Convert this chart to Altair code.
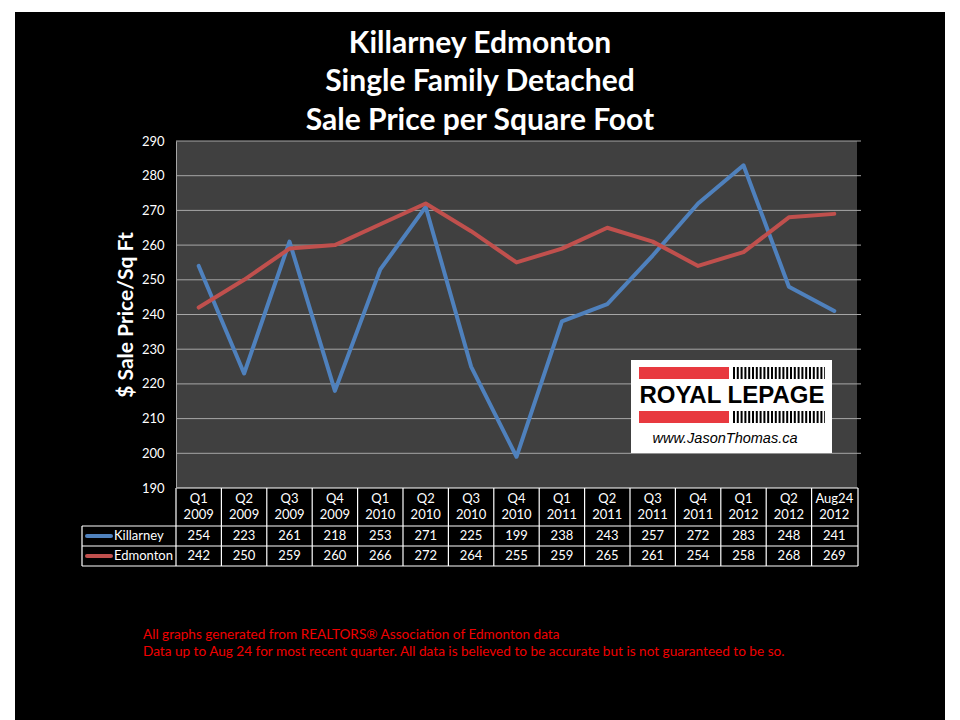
import altair as alt
import pandas as pd

# ---------------- data ----------------
quarters = ["Q1", "Q2", "Q3", "Q4", "Q1", "Q2", "Q3", "Q4", "Q1", "Q2", "Q3", "Q4", "Q1", "Q2", "Aug24"]
years = ["2009", "2009", "2009", "2009", "2010", "2010", "2010", "2010",
         "2011", "2011", "2011", "2011", "2012", "2012", "2012"]
killarney = [254, 223, 261, 218, 253, 271, 225, 199, 238, 243, 257, 272, 283, 248, 241]
edmonton = [242, 250, 259, 260, 266, 272, 264, 255, 259, 265, 261, 254, 258, 268, 269]
series_names = ["Killarney", "Edmonton"]
series_colors = ["#4F81BD", "#C0504D"]
y_ticks = [190, 200, 210, 220, 230, 240, 250, 260, 270, 280, 290]
grid_values = [200, 210, 220, 230, 240, 250, 260, 270, 280, 290]

title_lines = ["Killarney Edmonton", "Single Family Detached", "Sale Price per Square Foot"]
y_title = "$ Sale Price/Sq Ft"
foot_lines = [
    "All graphs generated from REALTORS\u00ae Association of Edmonton data",
    "Data up to Aug 24  for most recent quarter. All data is believed to be accurate but is not guaranteed to be so.",
]

cats = [f"{q} {y}" for q, y in zip(quarters, years)]
headers = [f"{q}\n{y}" for q, y in zip(quarters, years)]

# ---------------- layout constants ----------------
W, H = 681, 347
FONT = "Lato"
GRID = "#a6a6a6"
PLOT_BG = "#404040"

long_df = pd.DataFrame({
    "cat": cats * 2,
    "series": [series_names[0]] * len(cats) + [series_names[1]] * len(cats),
    "value": killarney + edmonton,
})
table_df = pd.DataFrame({"cat": cats, "hdr": headers, "k": killarney, "e": edmonton})
grid_df = pd.DataFrame({"v": grid_values})
one = pd.DataFrame({"a": [0]})

yscale = alt.Scale(domain=[190, 290], nice=False, zero=False)
yaxis = alt.Axis(values=y_ticks, grid=False, ticks=False, domain=True, domainColor=GRID,
                 labelColor="white", labelFont=FONT, labelFontSize=13, labelPadding=12,
                 title=y_title, titleColor="white", titleFont=FONT, titleFontSize=21,
                 titleFontWeight="bold", titlePadding=5, zindex=1)
xscale = alt.Scale(paddingInner=0, paddingOuter=0)


def X(bp=0.5):
    return alt.X("cat:N", sort=cats, scale=xscale, axis=None, bandPosition=bp)


def txt(t):
    return pd.DataFrame({"t": [t]})


layers = []

# black slide background
layers.append(alt.Chart(one).mark_rect(color="black").encode(
    x=alt.value(-161), x2=alt.value(769), y=alt.value(-129), y2=alt.value(579)))
# plot area
layers.append(alt.Chart(one).mark_rect(color=PLOT_BG).encode(
    x=alt.value(0), x2=alt.value(W), y=alt.value(0), y2=alt.value(H)))
# gridlines
layers.append(alt.Chart(grid_df).mark_rule(color=GRID, strokeWidth=1).encode(
    y=alt.Y("v:Q", scale=yscale, axis=yaxis), x=alt.value(0), x2=alt.value(W + 4)))
# lines
layers.append(alt.Chart(long_df).mark_line(strokeWidth=4, strokeJoin="round", strokeCap="round").encode(
    x=X(0.5),
    y=alt.Y("value:Q", scale=yscale, axis=yaxis),
    color=alt.Color("series:N", scale=alt.Scale(domain=series_names, range=series_colors), legend=None),
    detail="series:N",
))

# ---- table ----
TB = 78  # table height below plot
R1, R2 = 38, 58
layers.append(alt.Chart(table_df).mark_rule(color="white", strokeWidth=1.2).encode(
    x=X(0), y=alt.value(H), y2=alt.value(H + TB)))
layers.append(alt.Chart(one).mark_rule(color="white", strokeWidth=1.2).encode(
    x=alt.value(W + 1), y=alt.value(H), y2=alt.value(H + TB)))
layers.append(alt.Chart(one).mark_rule(color="white", strokeWidth=1.2).encode(
    x=alt.value(-94), y=alt.value(H + R1), y2=alt.value(H + TB)))
for yy in [H, H + R1, H + R2, H + TB]:
    x0 = 0 if yy == H else -94
    layers.append(alt.Chart(one).mark_rule(color="white", strokeWidth=1.2).encode(
        x=alt.value(x0), x2=alt.value(W + 1), y=alt.value(yy)))

layers.append(alt.Chart(table_df).mark_text(color="white", font=FONT, fontSize=13, lineBreak="\n",
                                            lineHeight=16, baseline="middle").encode(
    x=X(0.5), y=alt.value(H + 11), text="hdr:N"))
layers.append(alt.Chart(table_df).mark_text(color="white", font=FONT, fontSize=13, baseline="middle").encode(
    x=X(0.5), y=alt.value(H + 48), text="k:Q"))
layers.append(alt.Chart(table_df).mark_text(color="white", font=FONT, fontSize=13, baseline="middle").encode(
    x=X(0.5), y=alt.value(H + 68), text="e:Q"))

# legend keys inside the table
for i, (nm, col) in enumerate(zip(series_names, series_colors)):
    yy = H + 48 + 20 * i
    layers.append(alt.Chart(one).mark_rule(color=col, strokeWidth=4, strokeCap="round").encode(
        x=alt.value(-89), x2=alt.value(-65), y=alt.value(yy)))
    layers.append(alt.Chart(txt(nm)).mark_text(
        color="white", font=FONT, fontSize=13, align="left", baseline="middle").encode(
        x=alt.value(-62), y=alt.value(yy), text="t:N"))

# ---- title ----
for t, yy in zip(title_lines, [-88, -50, -11]):
    layers.append(alt.Chart(txt(t)).mark_text(
        color="white", font=FONT, fontSize=30, fontWeight="bold", align="center", baseline="alphabetic").encode(
        x=alt.value(304), y=alt.value(yy), text="t:N"))

# ---- footnote ----
for t, yy in zip(foot_lines, [H + 151, H + 168]):
    layers.append(alt.Chart(txt(t)).mark_text(
        color="#f00000", font=FONT, fontSize=13.6, align="left", baseline="alphabetic").encode(
        x=alt.value(-33), y=alt.value(yy), text="t:N"))

# ---- logo ----
layers.append(alt.Chart(one).mark_rect(color="white").encode(
    x=alt.value(455), x2=alt.value(656), y=alt.value(219), y2=alt.value(312)))
for y0 in [226, 270]:
    layers.append(alt.Chart(one).mark_rect(color="#E8393F").encode(
        x=alt.value(463), x2=alt.value(553), y=alt.value(y0), y2=alt.value(y0 + 12)))
    layers.append(alt.Chart(one).mark_rule(color="black", strokeWidth=12, strokeDash=[2, 1.8]).encode(
        x=alt.value(557), x2=alt.value(649), y=alt.value(y0 + 6)))
layers.append(alt.Chart(txt("ROYAL LEPAGE")).mark_text(
    color="black", font="Liberation Sans", fontSize=24, fontWeight="bold", align="center", baseline="middle").encode(
    x=alt.value(556), y=alt.value(255), text="t:N"))
layers.append(alt.Chart(txt("www.JasonThomas.ca")).mark_text(
    color="black", font="Liberation Sans", fontSize=14.5, fontStyle="italic", align="center", baseline="middle").encode(
    x=alt.value(549), y=alt.value(298), text="t:N"))

chart = alt.layer(*layers).properties(
    width=W, height=H,
    padding={"left": 176, "top": 141, "right": 960 - 176 - W, "bottom": 720 - 141 - H},
    autosize="none", background="white",
).configure_view(strokeWidth=0)

chart.save("out.html", embed_options={"renderer": "svg", "actions": False})
